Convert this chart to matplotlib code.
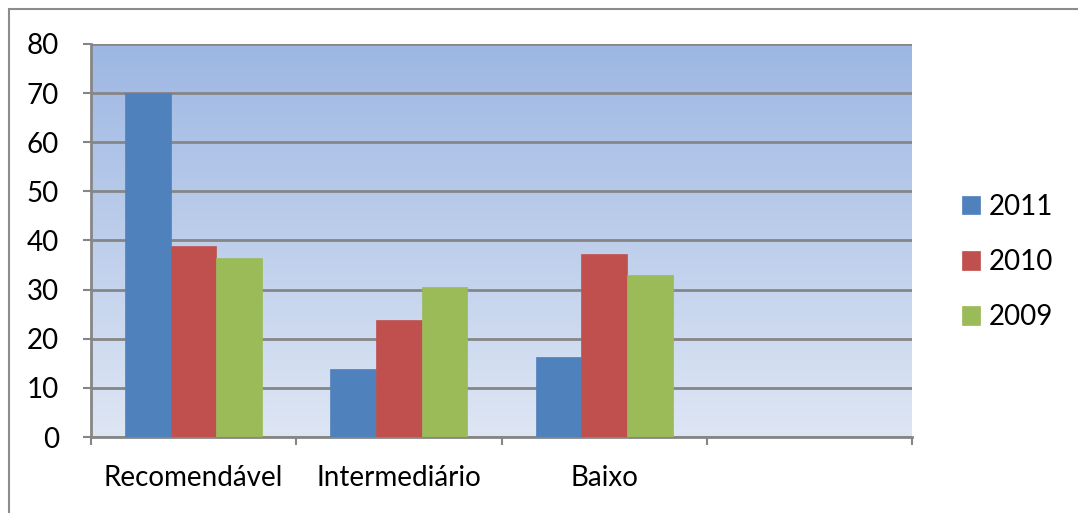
import numpy as np
import matplotlib.pyplot as plt
from matplotlib.patches import Rectangle
from matplotlib.ticker import FixedLocator

# ----------------------------
# data
# ----------------------------
categories = ["Recomendável", "Intermediário", "Baixo", ""]
years = ["2011", "2010", "2009"]
v2011 = [70.0, 13.8, 16.3, np.nan]
v2010 = [38.9, 23.9, 37.2, np.nan]
v2009 = [36.4, 30.5, 33.0, np.nan]
colors = ["#4F81BD", "#C0504D", "#9BBB59"]
y_ticks = [0, 10, 20, 30, 40, 50, 60, 70, 80]

plt.rcParams["font.family"] = ["Lato", "DejaVu Sans"]
FS = 20

W, H = 1078, 513
fig = plt.figure(figsize=(W / 100, H / 100), dpi=100)
ax = fig.add_axes([91 / W, (H - 437) / H, 821 / W, 393 / H])

# gradient background of the plot area
grad = np.linspace(0, 1, 256).reshape(-1, 1)
top = np.array([157, 183, 227]) / 255
bot = np.array([222, 230, 244]) / 255
img = top[None, None, :] * (1 - grad[:, :, None]) + bot[None, None, :] * grad[:, :, None]
ax.imshow(img, extent=(-0.5, len(categories) - 0.5, 0, 80), aspect="auto",
          origin="upper", zorder=0)

x = np.arange(len(categories))
bw = 0.667 / 3
for i, (vals, col) in enumerate(zip([v2011, v2010, v2009], colors)):
    ax.bar(x + (i - 1) * bw, vals, width=bw, color=col, label=years[i], zorder=3,
           edgecolor=col, linewidth=0.5)

ax.set_xlim(-0.5, len(categories) - 0.5)
ax.set_ylim(0, 80)
ax.set_yticks(y_ticks)
ax.yaxis.grid(True, color="#868686", linewidth=2, zorder=1)
ax.set_axisbelow(True)

ax.set_xticks(x)
ax.set_xticklabels(categories, fontsize=FS)
ax.xaxis.set_minor_locator(FixedLocator(np.arange(-0.5, len(categories), 1.0)))
ax.tick_params(axis="x", which="major", length=0, pad=20)
ax.tick_params(axis="x", which="minor", length=6, width=1.5, color="#868686")
ax.tick_params(axis="y", length=6, width=1.5, color="#868686", labelsize=FS, pad=17)

for side in ["top", "right"]:
    ax.spines[side].set_visible(False)
for side in ["left", "bottom"]:
    ax.spines[side].set_color("#868686")
    ax.spines[side].set_linewidth(2)

fig.legend(loc="center left", bbox_to_anchor=(937 / W, 1 - 262 / H), frameon=False,
           fontsize=FS, handlelength=0.65, handleheight=0.65, labelspacing=1.05,
           handletextpad=0.3)

# outer chart border (only top and left fall inside the image)
fig.patches.append(Rectangle((9 / W, -0.1), 1.2, 1 - 9 / H + 0.1, transform=fig.transFigure,
                             fill=False, edgecolor="#8c8c8c", linewidth=1.5))

fig.savefig("out.png", dpi=100)
